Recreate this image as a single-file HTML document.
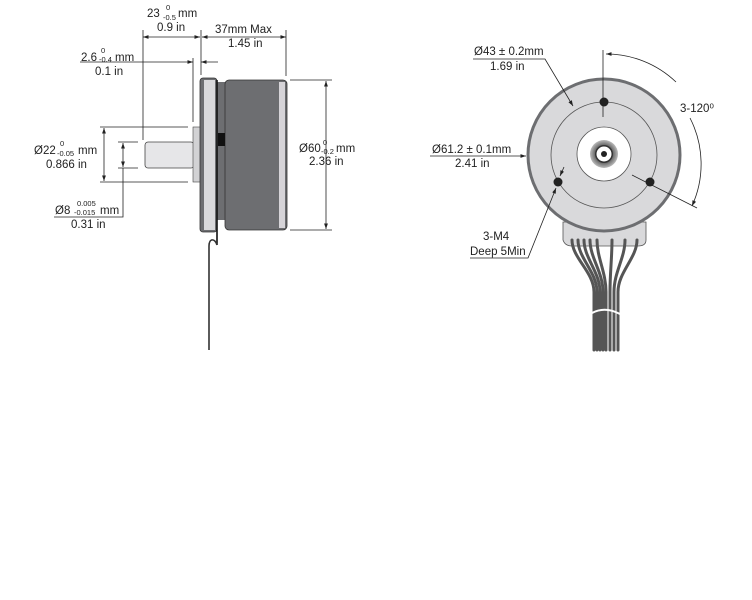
<!DOCTYPE html>
<html><head><meta charset="utf-8"><style>
html,body{margin:0;padding:0;background:#fff;width:752px;height:600px;overflow:hidden}
svg text{font-family:"Liberation Sans",sans-serif;fill:#222}
.s{font-size:7.5px}
.m{font-size:11.5px}
</style></head><body>
<svg width="752" height="600" viewBox="0 0 752 600" xmlns="http://www.w3.org/2000/svg">
<defs>
<marker id="a" viewBox="0 0 10 10" refX="10" refY="5" markerWidth="7" markerHeight="7" orient="auto-start-reverse"><path d="M0,1.5 L10,5 L0,8.5 z" fill="#222"/></marker>
<radialGradient id="g"><stop offset="0.55" stop-color="#555"/><stop offset="1" stop-color="#bbb"/></radialGradient>
</defs>
<g stroke="#222" stroke-width="0.8" fill="none">
<line x1="143" y1="30" x2="143" y2="140"/>
<line x1="201" y1="30" x2="201" y2="75"/>
<line x1="286" y1="30" x2="286" y2="76"/>
<line x1="193" y1="58" x2="193" y2="122"/>
<line x1="143" y1="37" x2="200" y2="37" marker-start="url(#a)" marker-end="url(#a)"/>
<line x1="202" y1="37" x2="286" y2="37" marker-start="url(#a)" marker-end="url(#a)"/>
<line x1="80" y1="62" x2="193" y2="62" marker-end="url(#a)"/>
<line x1="218" y1="62" x2="201" y2="62" marker-end="url(#a)"/>
<line x1="100" y1="127" x2="188" y2="127"/>
<line x1="100" y1="182" x2="188" y2="182"/>
<line x1="104" y1="128" x2="104" y2="181" marker-start="url(#a)" marker-end="url(#a)"/>
<line x1="118" y1="142" x2="138" y2="142"/>
<line x1="118" y1="168" x2="138" y2="168"/>
<line x1="123" y1="143" x2="123" y2="167" marker-start="url(#a)" marker-end="url(#a)"/>
<polyline points="54,217 123,217 123,168"/>
<line x1="290" y1="80" x2="332" y2="80"/>
<line x1="290" y1="230" x2="332" y2="230"/>
<line x1="326" y1="81" x2="326" y2="229" marker-start="url(#a)" marker-end="url(#a)"/>
</g>
<rect x="145" y="142" width="49" height="26" rx="3" fill="#e6e6e8" stroke="#444" stroke-width="0.8"/>
<rect x="193" y="127" width="8" height="55" fill="#d2d2d4" stroke="#444" stroke-width="0.6"/>
<rect x="200" y="78" width="17" height="154" rx="3" fill="#6d6e71" stroke="#333" stroke-width="0.8"/>
<rect x="204" y="80" width="11" height="150" fill="#d9d9db"/>
<rect x="217" y="82" width="9" height="138" fill="#6d6e71"/>
<rect x="225" y="80" width="62" height="150" rx="4" fill="#6d6e71" stroke="#333" stroke-width="0.8"/>
<rect x="279" y="82" width="6" height="146" fill="#d6d4d8"/>
<rect x="218" y="133" width="7" height="13" fill="#111"/>
<line x1="217" y1="80" x2="217" y2="245" stroke="#111" stroke-width="1.6"/>
<path d="M217,245 C215,238 209,238 209,246 L209,350" fill="none" stroke="#333" stroke-width="1.6"/>
<!-- side texts -->
<text class="m" x="147" y="17">23</text><text class="s" x="166" y="10">0</text><text class="s" x="163" y="20">-0.5</text><text class="m" x="178" y="17">mm</text>
<text class="m" x="157" y="31">0.9 in</text>
<text class="m" x="215" y="33">37mm Max</text>
<text class="m" x="228" y="47">1.45 in</text>
<text class="m" x="81" y="61">2.6</text><text class="s" x="101" y="53">0</text><text class="s" x="99" y="62">-0.4</text><text class="m" x="115" y="61">mm</text>
<text class="m" x="95" y="75">0.1 in</text>
<text class="m" x="34" y="154">Ø22</text><text class="s" x="60" y="146">0</text><text class="s" x="57" y="156">-0.05</text><text class="m" x="78" y="154">mm</text>
<text class="m" x="46" y="168">0.866 in</text>
<text class="m" x="55" y="214">Ø8</text><text class="s" x="77" y="206">0.005</text><text class="s" x="74" y="215">-0.015</text><text class="m" x="100" y="214">mm</text>
<text class="m" x="71" y="228">0.31 in</text>
<text class="m" x="299" y="152">Ø60</text><text class="s" x="323" y="145">0</text><text class="s" x="321" y="154">-0.2</text><text class="m" x="336" y="152">mm</text>
<text class="m" x="309" y="165">2.36 in</text>
<!-- front view -->
<path d="M563,222 L563,240 Q565,246 572,246 L638,246 Q646,246 646,240 L646,222 Z" fill="#d9d9db" stroke="#555" stroke-width="0.8"/>
<circle cx="604" cy="155" r="76" fill="#d9d9db" stroke="#6d6e71" stroke-width="3"/>
<circle cx="604" cy="155" r="53" fill="none" stroke="#555" stroke-width="0.8"/>
<circle cx="604" cy="154" r="27" fill="#fff" stroke="#555" stroke-width="0.8"/>
<circle cx="604" cy="154" r="14" fill="url(#g)"/>
<circle cx="604" cy="154" r="9" fill="#333"/>
<circle cx="604" cy="154" r="7.5" fill="#fff"/>
<circle cx="604" cy="154" r="3" fill="#222"/>
<circle cx="604" cy="102" r="4.5" fill="#222"/>
<circle cx="558" cy="182" r="4.5" fill="#222"/>
<circle cx="650" cy="182" r="4.5" fill="#222"/>
<g stroke="#555" stroke-width="3" fill="none" stroke-linecap="round">
<path d="M572,240 C572,258 594,272 594,292 L594,350"/>
<path d="M578,240 C578,258 597,272 597,292 L597,350"/>
<path d="M584,240 C584,258 600,272 600,292 L600,350"/>
<path d="M590,240 C590,258 603,272 603,292 L603,350"/>
<path d="M597,240 C597,258 606,272 606,292 L606,350"/>
<path d="M612,240 C612,258 610,272 610,292 L610,350"/>
<path d="M625,240 C625,258 614,272 614,292 L614,350"/>
<path d="M637,240 C637,258 618,272 618,292 L618,350"/>
</g>
<path d="M592,313 Q605,306 620,314" stroke="#fff" stroke-width="2" fill="none"/>
<g stroke="#222" stroke-width="0.8" fill="none">
<line x1="603" y1="50" x2="603" y2="117"/>
<line x1="632" y1="175" x2="697" y2="208"/>
<path d="M606,54 A101,101 0 0,1 676,82" marker-start="url(#a)"/>
<path d="M690,118 A101,101 0 0,1 692,206" marker-end="url(#a)"/>
<polyline points="473,59 545,59 573,106" marker-end="url(#a)"/>
<line x1="430" y1="156" x2="526" y2="156" marker-end="url(#a)"/>
<polyline points="470,258 528,258 556,188" marker-end="url(#a)"/>
<line x1="564" y1="167" x2="560" y2="176" marker-end="url(#a)"/>
</g>
<text class="m" x="474" y="55">Ø43 ± 0.2mm</text>
<text class="m" x="490" y="70">1.69 in</text>
<text class="m" x="432" y="153">Ø61.2 ± 0.1mm</text>
<text class="m" x="455" y="167">2.41 in</text>
<text class="m" x="483" y="240">3-M4</text>
<text class="m" x="470" y="255">Deep 5Min</text>
<text class="m" x="680" y="112">3-120⁰</text>
</svg>
</body></html>
